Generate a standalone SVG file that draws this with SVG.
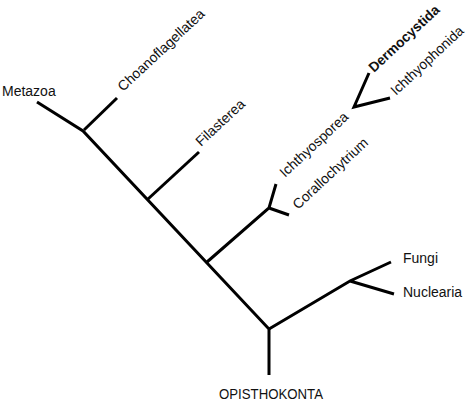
<svg xmlns="http://www.w3.org/2000/svg" width="474" height="401" viewBox="0 0 474 401">
<style>
.e{stroke:#000;stroke-width:3;fill:none;stroke-linecap:butt;stroke-linejoin:miter}
text{font-family:"Liberation Sans",Arial,sans-serif;font-size:14px;fill:#111}
.b{font-weight:bold}
</style>
<rect width="474" height="401" fill="#fff"/>
<g id="connectors">
<path class="e" d="M37,102 L83,131 L269,329 L269,375"/>
<path class="e" d="M84,130 L117,98"/>
<path class="e" d="M148,199 L199,152"/>
<path class="e" d="M207,262 L269,208 L276,184 M269,208 L289,215"/>
<path class="e" d="M369,73 L354,107 L390,98"/>
<path class="e" d="M269,329 L350,281 L391,262 M350,281 L394,294"/>
</g>
<g id="metazoa"><text x="2" y="96">Metazoa</text></g>
<g id="choanoflagellatea"><text transform="translate(123,92) rotate(-43)">Choanoflagellatea</text></g>
<g id="filasterea"><text transform="translate(201,147) rotate(-43)">Filasterea</text></g>
<g id="ichthyosporea"><text transform="translate(285,178) rotate(-43)">Ichthyosporea</text></g>
<g id="corallochytrium"><text transform="translate(298,210) rotate(-43)">Corallochytrium</text></g>
<g id="dermocystida"><text class="b" transform="translate(374,73) rotate(-43)" font-size="13.5" textLength="91" lengthAdjust="spacingAndGlyphs">Dermocystida</text></g>
<g id="ichthyophonida"><text transform="translate(396,96) rotate(-43)" font-size="13" textLength="94" lengthAdjust="spacingAndGlyphs">Ichthyophonida</text></g>
<g id="fungi"><text x="403" y="263">Fungi</text></g>
<g id="nuclearia"><text x="403" y="297">Nuclearia</text></g>
<g id="opisthokonta"><text x="219" y="399" textLength="104" lengthAdjust="spacingAndGlyphs">OPISTHOKONTA</text></g>
</svg>
